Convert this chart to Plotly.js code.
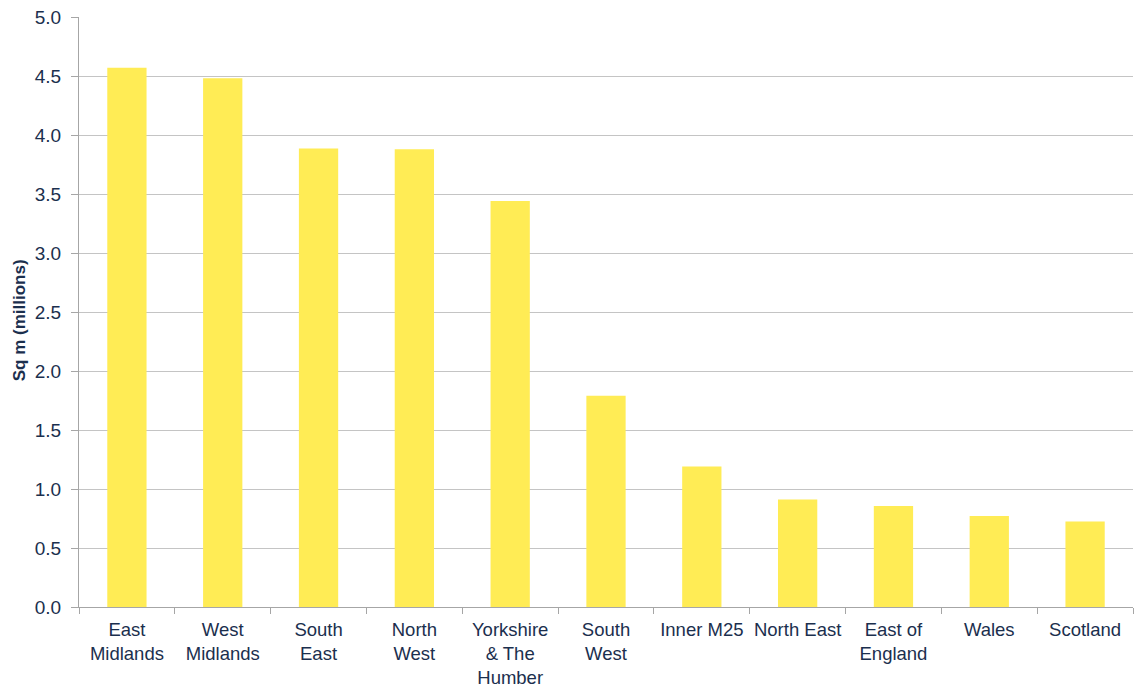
<!DOCTYPE html>
<html>
<head>
<meta charset="utf-8">
<script src="https://cdn.plot.ly/plotly-3.0.1.min.js"></script>
<style>
  html, body { margin: 0; padding: 0; background: #ffffff; }
  #chart { width: 1136px; height: 688px; }
</style>
</head>
<body>
<div id="chart"></div>
<script>
// Regions (tick labels, with line breaks)
const regions = [
  "East<br>Midlands", "West<br>Midlands", "South<br>East", "North<br>West",
  "Yorkshire<br>& The<br>Humber", "South<br>West", "Inner M25", "North East",
  "East of<br>England", "Wales", "Scotland"
];
// Floorspace, square metres (millions)
const sqmMillions = [4.57, 4.48, 3.885, 3.88, 3.44, 1.79, 1.19, 0.91, 0.855, 0.772, 0.724];

const axisTitle = "Sq m (millions)";
const textColor = "#1b2f4e";

const trace = {
  type: "bar",
  x: regions,
  y: sqmMillions,
  marker: { color: "#ffec55", line: { width: 0 } },
  hoverinfo: "x+y"
};

const layout = {
  width: 1136,
  height: 688,
  margin: { l: 79, r: 3, t: 17, b: 81 },
  paper_bgcolor: "#ffffff",
  plot_bgcolor: "#ffffff",
  bargap: 0.59,
  showlegend: false,
  font: { family: "Liberation Sans, Arial, sans-serif", color: textColor, size: 18.5 },
  xaxis: {
    type: "category",
    showgrid: false,
    showline: true,
    linecolor: "#a6a6a6",
    linewidth: 1,
    ticks: "outside",
    tickson: "boundaries",
    ticklen: 6,
    tickcolor: "#a6a6a6",
    tickangle: 0,
    tickfont: { size: 18.5, color: textColor },
    ticklabelstandoff: 6,
    automargin: false
  },
  yaxis: {
    range: [0, 5],
    tick0: 0,
    dtick: 0.5,
    tickformat: ".1f",
    showgrid: true,
    gridcolor: "#c4c4c4",
    gridwidth: 1,
    zeroline: false,
    showline: true,
    linecolor: "#a6a6a6",
    linewidth: 1,
    ticks: "outside",
    ticklen: 7,
    tickcolor: "#a6a6a6",
    tickfont: { size: 19, color: textColor },
    ticklabelstandoff: 6,
    automargin: false
  },
  // Rotated axis title, set slightly below the plot's vertical centre
  annotations: [{
    text: "<b>" + axisTitle + "</b>",
    textangle: -90,
    xref: "paper",
    yref: "paper",
    x: 0,
    y: 0.486,
    xanchor: "center",
    yanchor: "middle",
    xshift: -60,
    showarrow: false,
    font: { size: 17, color: textColor }
  }]
};

Plotly.newPlot("chart", [trace], layout, { displayModeBar: false, staticPlot: true });
</script>
</body>
</html>
